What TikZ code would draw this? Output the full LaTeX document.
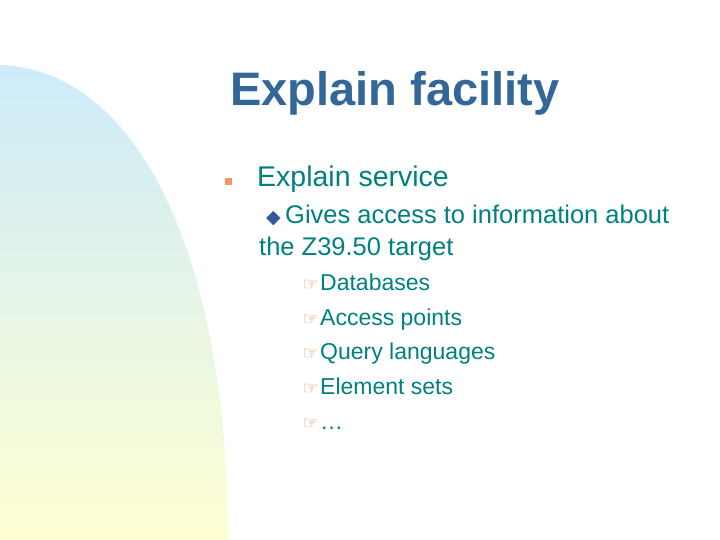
\documentclass[tikz,border=0pt]{standalone}
\usepackage{fontspec}
\setmainfont{Liberation Sans}
\newfontfamily\symfont{DejaVu Sans}
\definecolor{titleblue}{RGB}{51,102,153}
\definecolor{bodyteal}{RGB}{0,128,128}
\definecolor{bulorange}{RGB}{240,150,100}
\definecolor{diablue}{RGB}{51,90,150}
\definecolor{swooshtop}{RGB}{205,235,250}
\definecolor{swooshbot}{RGB}{255,255,210}
\tikzset{
    lvlone/.style={anchor=base west, font=\fontsize{28.5}{32}\selectfont, text=bodyteal, inner sep=0pt},
    lvltwo/.style={anchor=base west, font=\fontsize{25.5}{31}\selectfont, text=bodyteal, inner sep=0pt, align=left},
    lvlthree/.style={anchor=base west, font=\fontsize{23}{25}\selectfont, text=bodyteal, inner sep=0pt},
    hand/.style={anchor=base east, font=\symfont\fontsize{18}{20}\selectfont, text=bulorange, inner sep=0pt, xshift=-1pt}
}
\begin{document}
\begin{tikzpicture}[x=1pt,y=-1pt]
    \useasboundingbox (0,0) rectangle (720,540);
    % background swoosh
    \shade[top color=swooshtop, bottom color=swooshbot]
        (0,65) .. controls (140,70) and (228,260) .. (228,540) -- (0,540) -- cycle;

    \node[anchor=base west, font=\bfseries\fontsize{47}{50}\selectfont, text=titleblue, inner sep=0pt]
        (title) at (230,106) {Explain facility};

    \fill[bulorange] (225,178) rectangle (232,185);
    \node[lvlone] (service) at (257,187) {Explain service};

    \node[anchor=base west, font=\symfont\fontsize{19}{20}\selectfont, text=diablue, inner sep=0pt]
        (dia) at (266,224) {◆};
    \node[lvltwo] (gives) at (285,224) {Gives access to information about};
    \node[lvltwo] (target) at (259,255) {the Z39.50 target};

    \foreach \y/\txt [count=\i] in {290/Databases, 325/Access points, 359/Query languages, 394/Element sets, 429/\dots} {
        \node[lvlthree] (item\i) at (320,\y) {\txt};
        \node[hand] (hand\i) at (item\i.base west) {☞};
    }
\end{tikzpicture}
\end{document}
